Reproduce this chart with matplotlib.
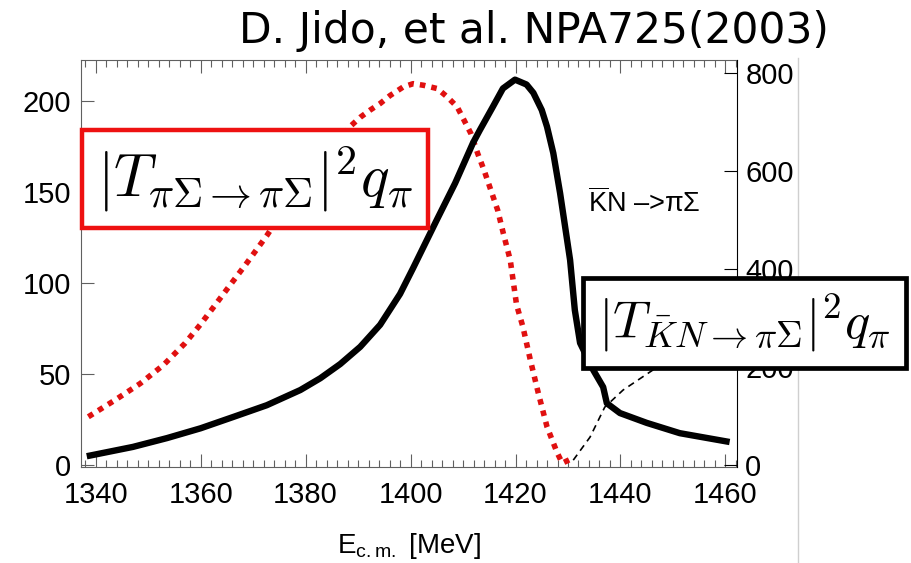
import matplotlib
matplotlib.use('Agg')
import matplotlib.pyplot as plt
from matplotlib.patches import Rectangle
from matplotlib.lines import Line2D
from matplotlib.ticker import MultipleLocator

plt.rcParams['font.family'] = ['Liberation Sans', 'DejaVu Sans']
plt.rcParams['mathtext.fontset'] = 'custom'
plt.rcParams['mathtext.rm'] = 'Liberation Sans'

# pi Sigma -> pi Sigma, left axis
e_pisig = [1338.6, 1343.7, 1348.5, 1352.9, 1357.0, 1359.9, 1362.4, 1365.0, 1368.8,
           1372.6, 1380.0, 1388.5, 1390.4, 1392.3, 1394.2, 1396.1, 1398.6, 1400.5,
           1402.5, 1405.1, 1407.0, 1408.9, 1410.2, 1411.5, 1412.8, 1414.0, 1415.3,
           1416.6, 1417.7, 1419.0, 1420.2, 1421.4, 1422.8, 1424.3, 1426.0, 1427.9,
           1428.9, 1430.7]
t_pisig = [26.5, 35.7, 44.8, 54.9, 66.8, 77, 86.5, 96.5, 111,
           126, 158, 186, 191, 195, 198.6, 203, 207.7, 209.5,
           208.6, 206.8, 202.2, 196.7, 189.4, 182.1, 171.1, 162, 151,
           140, 127, 112.5, 88, 76, 58, 40, 21, 7,
           1, 3.5]

# Kbar N -> pi Sigma, right axis
e_kn = [1338.3, 1347.1, 1353.6, 1360.0, 1366.2, 1372.6, 1379.0, 1382.8, 1386.6,
        1390.4, 1394.2, 1398.0, 1400.5, 1405.0, 1408.5, 1411.9, 1413.2, 1415.7,
        1417.6, 1419.9, 1422.1, 1423.4, 1425.0, 1426.0, 1427.2, 1428.5, 1430.4,
        1431.3, 1432.3, 1434.8, 1436.7, 1437.4, 1439.9, 1445.0, 1451.3, 1460.8]
t_kn = [18, 37, 55, 75, 98, 122, 153, 177, 206,
        241, 286, 349, 402, 500, 575, 657, 683, 731,
        768, 786, 776, 759, 724, 690, 636, 554, 418,
        316, 249, 194, 159, 126, 106, 86, 65, 47]

# thin dashed branch above the threshold
e_dash = [1431.0, 1434.2, 1437.0, 1440.5, 1446.2, 1452.0]
t_dash = [10, 57, 118, 153, 194, 240]

left_ticks = [0, 50, 100, 150, 200]
right_ticks = [0, 200, 400, 600, 800]
x_ticks = [1340, 1360, 1380, 1400, 1420, 1440, 1460]

fig = plt.figure(figsize=(9.12, 5.63), dpi=100)
ax = fig.add_axes([0.0888, 0.1705, 0.7193, 0.7229])
ax2 = ax.twinx()

ax.plot(e_pisig, t_pisig, color='#e01010', lw=4.0, linestyle=(0, (1, 1.1)))
ax2.plot(e_kn, t_kn, color='black', lw=4.6, solid_capstyle='butt', solid_joinstyle='round')
ax2.plot(e_dash, t_dash, color='black', lw=1.2, linestyle=(0, (4, 3)))

ax.set_xlim(1337.2, 1462.2)
ax.set_ylim(-1.1, 222.5)
ax2.set_ylim(-4, 826)

ax.set_xticks(x_ticks)
ax.xaxis.set_minor_locator(MultipleLocator(2))
ax.set_yticks(left_ticks)
ax2.set_yticks(right_ticks)

gray = '#606060'
for s in ['left', 'top', 'bottom']:
    ax.spines[s].set_color(gray)
    ax2.spines[s].set_visible(False)
ax.spines['right'].set_visible(False)
ax2.spines['right'].set_color('black')

ax.tick_params(axis='x', which='major', direction='in', length=9.5, width=0.8,
               top=True, color=gray, labelsize=21, pad=10)
ax.tick_params(axis='x', which='minor', direction='in', length=5, width=0.8,
               top=True, color=gray)
ax.tick_params(axis='y', direction='in', length=9.5, width=0.8, color=gray,
               labelsize=21, pad=7)
ax2.tick_params(axis='y', direction='in', length=9.5, width=0.8, color='black',
                labelsize=21, pad=6)

ax.set_xlabel(r'E$_{\mathrm{c.m.}}$ [MeV]', fontsize=20, labelpad=16)

fig.text(0.585, 0.945, 'D. Jido, et al. NPA725(2003)', family='DejaVu Sans',
         fontsize=30.5, va='center', ha='center')

fig.text(0.645, 0.623, r'$\overline{\mathrm{K}}$N ' + '\u2013>\u03c0\u03a3', fontsize=19.5,
         ha='left', va='baseline')

# formula boxes
red_box = Rectangle((0.0899, 0.595), 0.3794, 0.174, transform=fig.transFigure,
                    facecolor='white', edgecolor='#ee1111', lw=3.2, zorder=5)
fig.patches.append(red_box)
fig.text(0.2795, 0.682, r'$|T_{\pi\Sigma\rightarrow\pi\Sigma}|^2q_\pi$',
         math_fontfamily='cm', fontsize=43, ha='center', va='center', zorder=6)

blk_box = Rectangle((0.639, 0.346), 0.354, 0.160, transform=fig.transFigure,
                    facecolor='white', edgecolor='black', lw=3.4, zorder=5)
fig.patches.append(blk_box)
fig.text(0.816, 0.426, r'$|T_{\bar{K}N\rightarrow\pi\Sigma}|^2q_\pi$',
         math_fontfamily='cm', fontsize=38, ha='center', va='center', zorder=6)

fig.lines.append(Line2D([0.875, 0.875], [0.0, 0.897], transform=fig.transFigure,
                        color='#cfcfcf', lw=1))

fig.savefig('out.png', dpi=100)
